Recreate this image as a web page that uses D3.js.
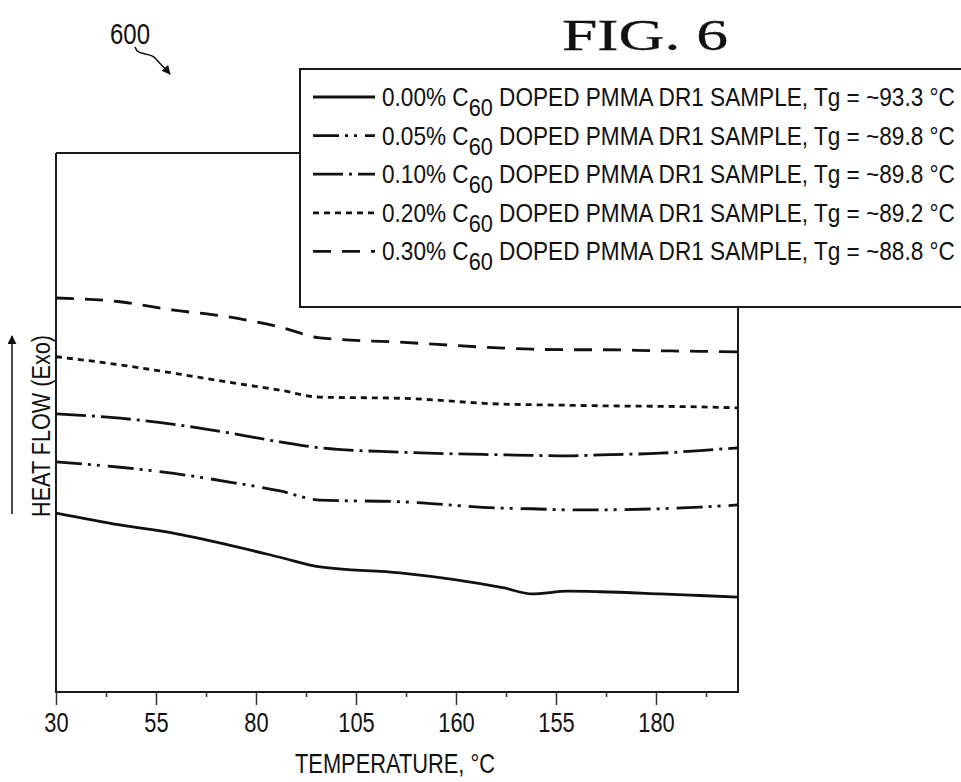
<!DOCTYPE html>
<html>
<head>
<meta charset="utf-8">
<script src="https://cdn.jsdelivr.net/npm/d3@7"></script>
<style>
  body { margin: 0; background: #fff; }
  text { font-family: "Liberation Sans Narrow", "Arial Narrow", "Liberation Sans", sans-serif; fill: #111; }
</style>
</head>
<body>
<div id="chart"></div>
<script>
// chart data (heat flow in arbitrary units)
var temperature = [30, 46, 59, 73, 86, 96, 116, 142, 149, 158, 166, 181, 191, 200.5];
var flow000 = [33.2, 31.0, 29.5, 27.3, 25.0, 23.2, 22.1, 19.3, 18.2, 18.7, 18.6, 18.2, 17.9, 17.6];
var flow005 = [42.7, 41.7, 40.6, 39.0, 37.3, 35.6, 35.3, 34.1, 34.0, 33.8, 33.8, 34.0, 34.3, 34.7];
var flow010 = [51.6, 50.8, 49.7, 48.1, 46.4, 45.3, 44.5, 44.0, 43.9, 43.8, 44.0, 44.3, 44.8, 45.3];
var flow020 = [62.2, 60.7, 59.2, 57.5, 56.0, 54.7, 54.5, 53.4, 53.3, 53.2, 53.1, 53.0, 52.9, 52.7];
var flow030 = [73.1, 72.4, 70.9, 69.6, 67.7, 65.7, 64.9, 63.8, 63.6, 63.5, 63.5, 63.3, 63.2, 63.1];

var doping = ["0.00%", "0.05%", "0.10%", "0.20%", "0.30%"];
var tgValues = ["~93.3", "~89.8", "~89.8", "~89.2", "~88.8"];
var xTickValues = [30, 55, 80, 105, 130, 155, 180];
var xTickLabels = ["30", "55", "80", "105", "160", "155", "180"];
var xMinorTicks = [42.5, 67.5, 92.5, 117.5, 142.5, 167.5, 192.5];

var seriesValues = [flow000, flow005, flow010, flow020, flow030];
var dashes = [null, "26,6,3,6,3,8", "30,6,3,6", "6,5", "18,11"];

var svgWidth = 961;
var svgHeight = 782;

// plot frame
var margin = { top: 153, right: 223, bottom: 90, left: 56 };
var width = svgWidth - margin.left - margin.right;
var height = svgHeight - margin.top - margin.bottom;

var svg = d3.select("#chart")
  .append("svg")
  .attr("width", svgWidth)
  .attr("height", svgHeight);

// squeeze a text horizontally so it takes the given width (the figure uses a narrow font)
function squeeze(textSel, x, y, targetWidth, anchor) {
  var w = textSel.node().getComputedTextLength();
  var sx = targetWidth / w;
  textSel.attr("x", 0).attr("y", 0)
    .attr("text-anchor", anchor || "start")
    .attr("transform", `translate(${x}, ${y}) scale(${sx}, 1)`);
}

var chartGroup = svg.append("g")
  .attr("transform", `translate(${margin.left}, ${margin.top})`);

var xScale = d3.scaleLinear()
  .domain([30, 200.5])
  .range([0, width]);

var yScale = d3.scaleLinear()
  .domain([0, 100])
  .range([height, 0]);

// frame: left, bottom and right sides
chartGroup.append("path")
  .attr("d", `M0,0 L${width},0 M0,0 L0,${height} L${width},${height} L${width},0`)
  .attr("fill", "none")
  .attr("stroke", "#1a1a1a")
  .attr("stroke-width", 2);

// minor ticks
chartGroup.append("g")
  .attr("transform", `translate(0, ${height})`)
  .call(d3.axisBottom(xScale).tickValues(xMinorTicks).tickSize(5).tickFormat(""))
  .call(g => g.select(".domain").remove())
  .selectAll("line").attr("stroke", "#333").attr("stroke-width", 1.5);

// major ticks with labels
var xAxis = chartGroup.append("g")
  .attr("transform", `translate(0, ${height})`)
  .call(d3.axisBottom(xScale)
    .tickValues(xTickValues)
    .tickSize(13)
    .tickPadding(7)
    .tickFormat((d, i) => xTickLabels[i]));

xAxis.select(".domain").remove();
xAxis.selectAll("line").attr("stroke", "#333").attr("stroke-width", 1.5);
xAxis.selectAll("text")
  .attr("font-size", "28px")
  .style("font-family", "'Liberation Sans Narrow', 'Arial Narrow', sans-serif")
  .attr("fill", "#111")
  .attr("transform", "scale(0.78, 1)");

// curves
var line = d3.line()
  .x(d => xScale(d[0]))
  .y(d => yScale(d[1]))
  .curve(d3.curveMonotoneX);

seriesValues.forEach(function(values, i) {
  var pts = temperature.map((t, j) => [t, values[j]]);
  chartGroup.append("path")
    .datum(pts)
    .attr("d", line)
    .attr("fill", "none")
    .attr("stroke", "#111")
    .attr("stroke-width", 2.8)
    .attr("stroke-dasharray", dashes[i]);
});

// axis titles
var xTitle = svg.append("text")
  .attr("font-size", "27px")
  .text("TEMPERATURE, °C");
squeeze(xTitle, 395, 773, 200, "middle");

var yTitle = svg.append("text")
  .attr("font-size", "26px")
  .text("HEAT FLOW (Exo)");
// rotate after squeezing
var yw = yTitle.node().getComputedTextLength();
yTitle.attr("text-anchor", "middle")
  .attr("transform", `translate(50, 426) rotate(-90) scale(${182 / yw}, 1)`);

// arrow next to the y label
svg.append("defs").append("marker")
  .attr("id", "head")
  .attr("viewBox", "0 0 10 10")
  .attr("refX", 9).attr("refY", 5)
  .attr("markerWidth", 6).attr("markerHeight", 6)
  .attr("orient", "auto")
  .append("path")
  .attr("d", "M0,0 L10,5 L0,10 Z")
  .attr("fill", "#111");

svg.append("line")
  .attr("x1", 12).attr("y1", 514)
  .attr("x2", 12).attr("y2", 336)
  .attr("stroke", "#111")
  .attr("stroke-width", 1.5)
  .attr("marker-end", "url(#head)");

// legend box
var legend = svg.append("g");

legend.append("rect")
  .attr("x", 300)
  .attr("y", 69)
  .attr("width", 680)
  .attr("height", 238)
  .attr("fill", "#fff")
  .attr("stroke", "#1a1a1a")
  .attr("stroke-width", 2);

doping.forEach(function(d, i) {
  var cy = 97 + i * 38.6;
  legend.append("line")
    .attr("x1", 313).attr("x2", 375)
    .attr("y1", cy).attr("y2", cy)
    .attr("stroke", "#111")
    .attr("stroke-width", 2.8)
    .attr("stroke-dasharray", dashes[i]);

  var t = legend.append("text")
    .attr("font-size", "25px");
  t.append("tspan").text(d + " C");
  t.append("tspan").attr("dy", 10).attr("font-size", "24px").text("60");
  t.append("tspan").attr("dy", -10).text(" DOPED PMMA DR1 SAMPLE, Tg = " + tgValues[i] + " °C");
  squeeze(t, 382, cy + 9, 573, "start");
});

// figure title and reference numeral
var figTitle = svg.append("text")
  .attr("font-size", "44px")
  .style("font-family", "'Liberation Serif', 'Times New Roman', serif")
  .attr("stroke", "#111")
  .attr("stroke-width", 0.3)
  .text("FIG. 6");
squeeze(figTitle, 562, 50, 166, "start");

var numeral = svg.append("text")
  .attr("font-size", "29px")
  .text("600");
squeeze(numeral, 130, 44, 40, "middle");

svg.append("path")
  .attr("d", "M135,47 C138,57 150,51 156,59 C160,64 164,67 170,74")
  .attr("fill", "none")
  .attr("stroke", "#111")
  .attr("stroke-width", 1.5)
  .attr("marker-end", "url(#head)");
</script>
</body>
</html>
